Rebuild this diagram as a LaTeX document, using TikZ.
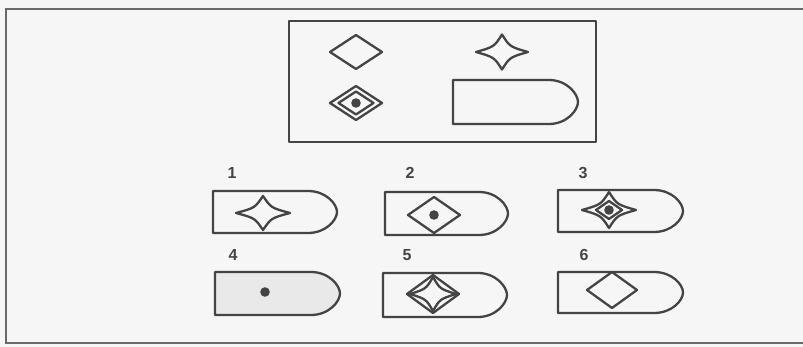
\documentclass[tikz,border=0pt]{standalone}
\usepackage{fontspec}
\setsansfont{Liberation Sans}
\usetikzlibrary{positioning}
\definecolor{cInk}{HTML}{444444}
\definecolor{cPaper}{HTML}{F6F6F6}
\definecolor{cShade}{HTML}{E9E9E9}

% shapes of the puzzle, all in pixel units
\newcommand{\gem}[4]{\draw[ln,shift={(#1,#2)}] (#3,0) -- (0,#4) -- (-#3,0) -- (0,-#4) -- cycle;}
\newcommand{\spark}[4]{\draw[ln,shift={(#1,#2)}] (#3,0) .. controls (0.3*#3,0.3*#4) .. (0,#4)
   .. controls (-0.3*#3,0.3*#4) .. (-#3,0) .. controls (-0.3*#3,-0.3*#4) .. (0,-#4)
   .. controls (0.3*#3,-0.3*#4) .. (#3,0) -- cycle;}
\newcommand{\pip}[2]{\fill[cInk] (#1,#2) circle (4.8);}
\newcommand{\shield}[5]{\draw[ln,fill=#5] (#1,#2) -- ({#3-29},#2)
   .. controls ({#3-11},#2) and (#3,{(#2+#4)/2-8}) .. (#3,{(#2+#4)/2})
   .. controls (#3,{(#2+#4)/2+8}) and ({#3-11},#4) .. ({#3-29},#4) -- (#1,#4) -- cycle;}

\begin{document}
\begin{tikzpicture}[x=1pt,y=-1pt,font=\sffamily\bfseries\fontsize{16}{16}\selectfont,
   ln/.style={draw=cInk,line width=2.3pt,line join=round},
   num/.style={text=cInk,inner sep=0pt,anchor=center}]
  \useasboundingbox[fill=cPaper] (0,0) rectangle (803,347);
  \draw[draw=cInk!80,line width=2.3pt] (803,9) -- (6,9) -- (6,343) -- (803,343);

  % the sample
  \draw[ln] (289,21) rectangle (596,142);
  \gem{356}{52}{26}{17}
  \spark{502}{52}{26}{17.5}
  \gem{356}{103}{26}{17}
  \gem{356}{103}{17.5}{11.5}
  \pip{356}{103}
  \shield{453}{80}{578}{124}{cPaper}

  % the six answers
  \node[num] (lab1) at (232,173) {1};
  \node[num] (lab2) at (410,173) {2};
  \node[num] (lab3) at (583,173) {3};
  \node[num] (lab4) at (233,255) {4};
  \node[num] (lab5) at (407,255) {5};
  \node[num] (lab6) at (584,255) {6};

  \shield{213}{191}{337}{233}{cPaper}
  \spark{263}{213}{27}{17}

  \shield{385}{192}{508}{235}{cPaper}
  \gem{434}{215}{26}{18}
  \pip{434}{215}

  \shield{558}{190}{683}{232}{cPaper}
  \spark{609}{210}{27}{18}
  \gem{609}{210}{13}{9}
  \pip{609}{210}

  \shield{215}{272}{340}{315}{cShade}
  \pip{265}{292}

  \shield{383}{273}{507}{317}{cPaper}
  \gem{433}{294}{26}{19}
  \spark{433}{294}{23}{17}

  \shield{558}{272}{683}{313}{cPaper}
  \gem{612}{290}{25}{18}
\end{tikzpicture}
\end{document}
